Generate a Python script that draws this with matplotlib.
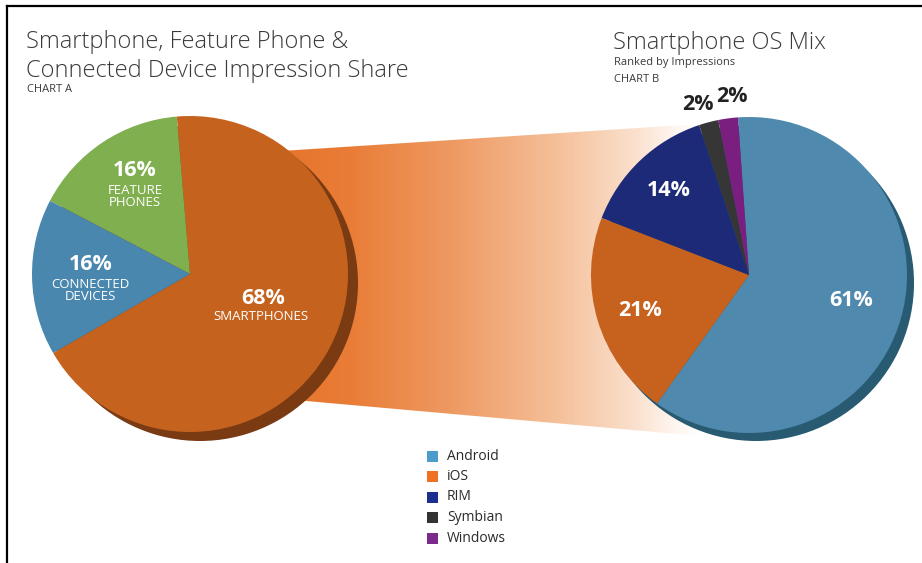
import numpy as np
import matplotlib
matplotlib.use("Agg")
import matplotlib.pyplot as plt
from matplotlib.patches import Circle, Polygon, Rectangle
from matplotlib.lines import Line2D

# ---- data ----
device_labels = ["SMARTPHONES", "FEATURE\nPHONES", "CONNECTED\nDEVICES"]
device_share = [68, 16, 16]
device_colors = ["#C5631E", "#80AF50", "#4A87AE"]

os_labels = ["Android", "iOS", "RIM", "Symbian", "Windows"]
os_share = [61, 21, 14, 2, 2]
os_colors = ["#4F89AE", "#C6621D", "#1D2A78", "#363636", "#7A1F7F"]
legend_colors = ["#4C9CCB", "#EE7124", "#1B2F8E", "#333333", "#7C2A8C"]

W, H = 922, 563
plt.rcParams['font.family'] = ['Open Sans', 'DejaVu Sans']

fig = plt.figure(figsize=(W / 100, H / 100), dpi=100)
fig.patch.set_facecolor("white")
ax = fig.add_axes([0, 0, 1, 1])

def Y(y):
    return H - y

# ---- connecting band with gradient ----
band = Polygon([(250, Y(153)), (700, Y(124)), (700, Y(436)), (250, Y(396))],
               closed=True, facecolor="none", edgecolor="none")
ax.add_patch(band)
xs = np.linspace(250, 700, 450)
stops_x = [250, 350, 450, 560, 630, 675, 700]
stops_c = np.array([[228, 112, 38], [233, 125, 55], [238, 153, 98],
                    [245, 193, 155], [250, 222, 202], [254, 246, 240],
                    [255, 255, 255]]) / 255.0
grad = np.stack([np.interp(xs, stops_x, stops_c[:, k]) for k in range(3)], axis=-1)
img = np.tile(grad[None, :, :], (10, 1, 1))
im = ax.imshow(img, extent=(250, 700, Y(440), Y(120)), origin="upper",
               aspect="auto", zorder=1, interpolation="bilinear")
im.set_clip_path(band)

# ---- left pie (chart A) ----
lc = (190, Y(274))
r = 158
ax.add_patch(Circle((lc[0] + 10, lc[1] - 9), r, facecolor="#7A3A12",
                    edgecolor="none", zorder=2))
ax.pie(device_share, colors=device_colors, startangle=210, counterclock=True,
       center=lc, radius=r, wedgeprops=dict(linewidth=0, zorder=3))

# ---- right pie (chart B) ----
rc = (749, Y(275))
ax.add_patch(Circle((rc[0] + 7, rc[1] - 8), r, facecolor="#285A72",
                    edgecolor="none", zorder=2))
ax.pie(os_share, colors=os_colors, startangle=94, counterclock=False,
       center=rc, radius=r, wedgeprops=dict(linewidth=0, zorder=3))

ax.set_xlim(0, W)
ax.set_ylim(0, H)
ax.set_aspect("auto")
ax.axis("off")

# ---- pie labels (chart A) ----
white = "white"
big = 15.5
small = 9.5
ax.text(135, Y(170), f"{device_share[1]}%", color=white, fontsize=big,
        fontweight="bold", ha="center", va="center", zorder=5)
ax.text(135, Y(197), device_labels[1], color=white, fontsize=small,
        ha="center", va="center", linespacing=0.9, zorder=5)
ax.text(91, Y(264), f"{device_share[2]}%", color=white, fontsize=big,
        fontweight="bold", ha="center", va="center", zorder=5)
ax.text(90, Y(290), device_labels[2], color=white, fontsize=small,
        ha="center", va="center", linespacing=0.9, zorder=5)
ax.text(263, Y(298), f"{device_share[0]}%", color=white, fontsize=big,
        fontweight="bold", ha="center", va="center", zorder=5)
ax.text(261, Y(317), device_labels[0], color=white, fontsize=small,
        ha="center", va="center", zorder=5)

# ---- pie labels (chart B) ----
ax.text(851, Y(301), f"{os_share[0]}%", color=white, fontsize=big,
        fontweight="bold", ha="center", va="center", zorder=5)
ax.text(640, Y(311), f"{os_share[1]}%", color=white, fontsize=big,
        fontweight="bold", ha="center", va="center", zorder=5)
ax.text(669, Y(191), f"{os_share[2]}%", color=white, fontsize=big,
        fontweight="bold", ha="center", va="center", zorder=5)
ax.text(698, Y(105), f"{os_share[3]}%", color="#222222", fontsize=big,
        fontweight="bold", ha="center", va="center", zorder=5)
ax.text(732, Y(97), f"{os_share[4]}%", color="#222222", fontsize=big,
        fontweight="bold", ha="center", va="center", zorder=5)

# ---- titles ----
tc = "#3A3A3A"
ax.text(26, Y(42), "Smartphone, Feature Phone &", color=tc, fontsize=17,
        ha="left", va="center", fontweight="light")
ax.text(26, Y(71), "Connected Device Impression Share", color=tc, fontsize=17,
        ha="left", va="center", fontweight="light")
ax.text(27, Y(89), "CHART A", color=tc, fontsize=8, ha="left", va="center")

ax.text(613, Y(43), "Smartphone OS Mix", color=tc, fontsize=17,
        ha="left", va="center", fontweight="light")
ax.text(614, Y(62), "Ranked by Impressions", color=tc, fontsize=8,
        ha="left", va="center")
ax.text(614, Y(79), "CHART B", color=tc, fontsize=8, ha="left", va="center")

# ---- legend ----
ly0 = 456
for i, (lab, col) in enumerate(zip(os_labels, legend_colors)):
    yy = ly0 + i * 20.5
    ax.add_patch(Rectangle((427, Y(yy) - 5.5), 11, 11, facecolor=col,
                           edgecolor="none", zorder=5))
    ax.text(447, Y(yy), lab, color="#2A2A2A", fontsize=10, ha="left",
            va="center", zorder=5)

# ---- frame ----
ax.add_line(Line2D([7, 7], [0, Y(6)], color="black", lw=1.6, zorder=10))
ax.add_line(Line2D([7, W], [Y(6), Y(6)], color="black", lw=1.6, zorder=10))

fig.savefig("out.png", dpi=100, facecolor="white")
